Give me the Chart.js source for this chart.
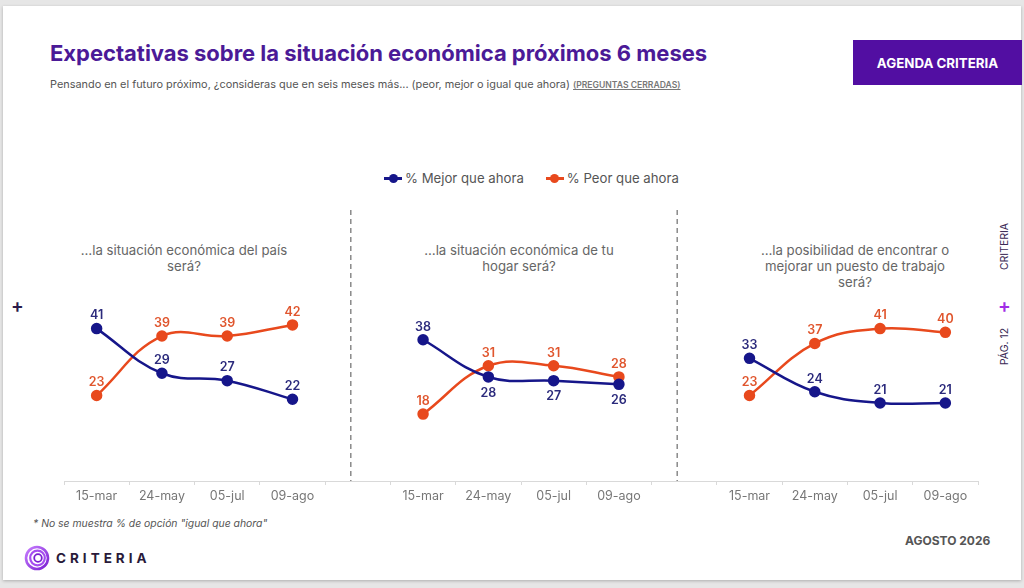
<!DOCTYPE html>
<html>
<head>
<meta charset="utf-8">
<script src="https://cdn.jsdelivr.net/npm/chart.js@4.4.1/dist/chart.umd.min.js"></script>
<style>
  html,body{margin:0;padding:0;background:#e6e6e6;width:1024px;height:588px;overflow:hidden;font-family:Inter, "Noto Sans", sans-serif;}
  #slide{position:absolute;left:3px;top:6px;width:1018px;height:574px;background:#fff;box-shadow:0 1px 3px rgba(0,0,0,0.25);}
  .abs{position:absolute;}
  #title{left:50px;top:40px;font-size:22px;font-weight:700;color:#4b1a97;letter-spacing:-0.02px;white-space:nowrap;}
  #subtitle{left:50px;top:77px;font-size:10.9px;color:#555;white-space:nowrap;}
  #subtitle u{font-size:8.6px;font-weight:600;color:#777;}
  #btn{left:853px;top:40px;width:169px;height:45px;background:#520ea2;color:#fff;font-weight:700;font-size:13.3px;display:flex;align-items:center;justify-content:center;}
  #legend{left:384px;top:170px;font-size:13.2px;color:#555;display:flex;align-items:center;white-space:nowrap;}
  .lm{display:inline-block;position:relative;width:18px;height:10px;margin-right:3px;}
  .lm:before{content:"";position:absolute;left:0;right:0;top:4px;height:2.5px;}
  .lm:after{content:"";position:absolute;left:4.5px;top:0.5px;width:9px;height:9px;border-radius:50%;}
  .b:before,.b:after{background:#16168a;}
  .o:before,.o:after{background:#e8491d;}
  .ptitle{top:242px;font-size:13.2px;color:#666;text-align:center;line-height:16px;transform:translateX(-50%);white-space:nowrap;}
  #note{left:33px;top:517px;font-size:10.4px;font-style:italic;color:#555;white-space:nowrap;}
  #fecha{left:905px;top:533px;font-size:12px;font-weight:700;color:#555;white-space:nowrap;}
  #logo{left:24px;top:545px;display:flex;align-items:center;}
  #logo span{font-size:13.5px;font-weight:700;letter-spacing:4px;color:#2a1a3a;margin-left:6px;}
  #plusL{left:11px;top:294px;font-size:19px;font-weight:600;color:#2a1a4a;}
  .vert{transform:rotate(-90deg);transform-origin:center;font-size:10.5px;color:#3a2a55;white-space:nowrap;}
  #plusR{left:998px;top:294px;font-size:19px;color:#a12ee6;font-weight:600;}
  canvas{position:absolute;left:0;top:0;}
</style>
</head>
<body>
<div id="slide"></div>
<div id="title" class="abs">Expectativas sobre la situación económica próximos 6 meses</div>
<div id="subtitle" class="abs">Pensando en el futuro próximo, ¿consideras que en seis meses más... (peor, mejor o igual que ahora) <u>(PREGUNTAS CERRADAS)</u></div>
<div id="btn" class="abs">AGENDA CRITERIA</div>
<div id="legend" class="abs"><span class="lm b"></span>% Mejor que ahora<span style="display:inline-block;width:22px"></span><span class="lm o"></span>% Peor que ahora</div>
<div class="abs ptitle" style="left:184px">…la situación económica del país<br>será?</div>
<div class="abs ptitle" style="left:519px">…la situación económica de tu<br>hogar será?</div>
<div class="abs ptitle" style="left:855px">…la posibilidad de encontrar o<br>mejorar un puesto de trabajo<br>será?</div>
<div id="plusL" class="abs">+</div>
<div class="abs vert" style="left:980px;top:240px;width:48px;text-align:center;">CRITERIA</div>
<div id="plusR" class="abs">+</div>
<div class="abs vert" style="left:980px;top:340px;width:48px;text-align:center;">PÁG. 12</div>
<div id="note" class="abs">* No se muestra % de opción "igual que ahora"</div>
<div id="fecha" class="abs">AGOSTO 2026</div>
<div id="logo" class="abs">
  <svg width="26" height="26" viewBox="0 0 26 26">
    <defs><linearGradient id="g" x1="0" y1="0" x2="1" y2="1"><stop offset="0" stop-color="#c77dff"/><stop offset="1" stop-color="#7a1fd1"/></linearGradient></defs>
    <circle cx="13" cy="13" r="11" fill="none" stroke="url(#g)" stroke-width="2.6"/>
    <circle cx="13.5" cy="13" r="7.3" fill="none" stroke="#a64df0" stroke-width="2.2"/>
    <circle cx="14" cy="13" r="3.8" fill="none" stroke="#7a1fd1" stroke-width="1.8"/>
  </svg>
  <span>CRITERIA</span>
</div>
<canvas id="c" width="1024" height="588"></canvas>
<script>
const fechas = ['15-mar','24-may','05-jul','09-ago'];
const mejorPais = [41,29,27,22];
const peorPais = [23,39,39,42];
const mejorHogar = [38,28,27,26];
const peorHogar = [18,31,31,28];
const mejorTrabajo = [33,24,21,21];
const peorTrabajo = [23,37,41,40];

const labels = [...fechas, '', ...fechas, '', ...fechas];
const mejor = [...mejorPais, null, ...mejorHogar, null, ...mejorTrabajo];
const peor = [...peorPais, null, ...peorHogar, null, ...peorTrabajo];

const BLUE = '#16168a', ORANGE = '#e8491d';
const FONT = 'Inter, "Noto Sans", sans-serif';

const labelPlugin = {
  id: 'vals',
  afterDatasetsDraw(chart) {
    const ctx = chart.ctx;
    const ds = chart.data.datasets;
    ctx.save();
    ctx.font = '600 12.5px ' + FONT;
    ctx.textAlign = 'center';
    ctx.textBaseline = 'middle';
    ds.forEach((d, i) => {
      const other = ds[1 - i].data;
      const meta = chart.getDatasetMeta(i);
      meta.data.forEach((pt, j) => {
        const v = d.data[j];
        if (v == null) return;
        const o = other[j];
        const below = (o != null && v < o && o - v <= 6);
        ctx.fillStyle = d.labelColor;
        ctx.fillText(String(v), pt.x, pt.y + (below ? 16 : -13));
      });
    });
    ctx.restore();
  }
};

const sepPlugin = {
  id: 'sep',
  beforeDatasetsDraw(chart) {
    const ctx = chart.ctx, xs = chart.scales.x;
    ctx.save();
    ctx.strokeStyle = '#8a8a8a';
    ctx.lineWidth = 1.5;
    ctx.setLineDash([5, 4]);
    labels.forEach((l, i) => {
      if (l !== '') return;
      const x = xs.getPixelForValue(i) - 7;
      ctx.beginPath();
      ctx.moveTo(x, 210);
      ctx.lineTo(x, chart.chartArea.bottom);
      ctx.stroke();
    });
    ctx.restore();
  }
};

new Chart(document.getElementById('c'), {
  type: 'line',
  data: {
    labels: labels,
    datasets: [
      { label: '% Mejor que ahora', data: mejor, borderColor: BLUE, backgroundColor: BLUE, labelColor: '#2b2a7c',
        borderWidth: 2.5, pointRadius: 4.5, pointHoverRadius: 4.5, tension: 0.4, spanGaps: false },
      { label: '% Peor que ahora', data: peor, borderColor: ORANGE, backgroundColor: ORANGE, labelColor: '#e0562e',
        borderWidth: 2.5, pointRadius: 4.5, pointHoverRadius: 4.5, tension: 0.4, spanGaps: false }
    ]
  },
  options: {
    responsive: false,
    animation: false,
    devicePixelRatio: 1,
    layout: { padding: { left: 64, right: 46, top: 258, bottom: 80 } },
    plugins: { legend: { display: false }, tooltip: { enabled: false } },
    scales: {
      x: {
        offset: true,
        grid: { offset: true, drawOnChartArea: false, drawTicks: true, tickLength: 4, color: '#d9d9d9' },
        border: { display: true, color: '#d9d9d9', width: 1 },
        ticks: { color: '#777', font: { family: FONT, size: 12.5 }, padding: 4, maxRotation: 0, autoSkip: false }
      },
      y: { display: false, min: 0, max: 60 }
    }
  },
  plugins: [sepPlugin, labelPlugin]
});
</script>
</body>
</html>
